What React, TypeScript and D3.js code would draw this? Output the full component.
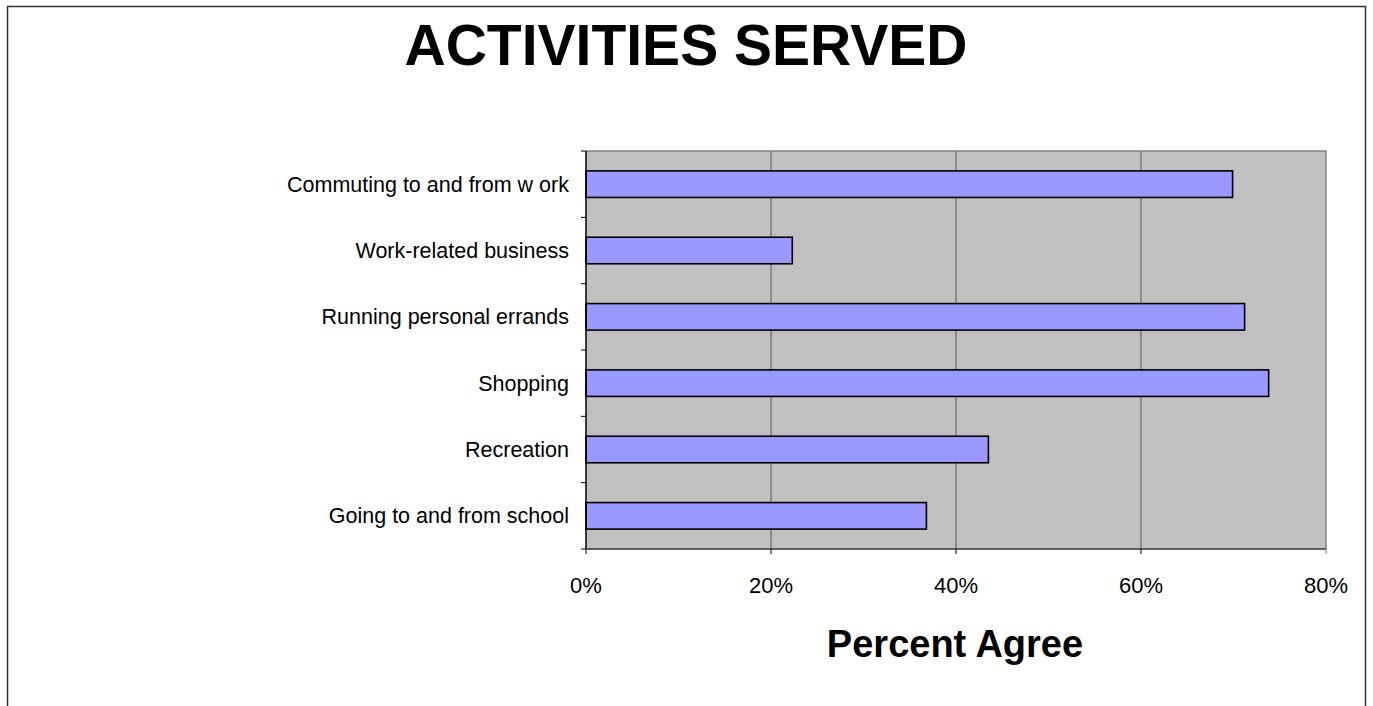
import React from "react";
import * as d3 from "d3";

const categories = [
  "Commuting to and from w ork",
  "Work-related business",
  "Running personal errands",
  "Shopping",
  "Recreation",
  "Going to and from school",
];
const values = [69.9, 22.3, 71.2, 73.8, 43.5, 36.8];
const xTicks = [0, 20, 40, 60, 80];
const title = "ACTIVITIES SERVED";
const xTitle = "Percent Agree";

const W = 1373;
const H = 706;
const plot = { left: 586, right: 1326, top: 151, bottom: 549 };

export default function App() {
  const x = d3.scaleLinear().domain([0, 80]).range([plot.left, plot.right]);
  const y = d3
    .scaleBand<string>()
    .domain(categories)
    .range([plot.top, plot.bottom])
    .paddingInner(0.6)
    .paddingOuter(0.3);
  const step = y.step();
  const boundaries = d3.range(categories.length + 1).map((i) => plot.top + i * step);
  const font = "Arial, 'Liberation Sans', sans-serif";

  return (
    <svg
      width={W}
      height={H}
      style={{ position: "absolute", left: 0, top: 0, background: "#fff" }}
    >
      {/* outer frame */}
      <rect x={7.5} y={6.5} width={1358} height={720} fill="none" stroke="#333" strokeWidth={1.5} />
      {/* title */}
      <text
        x={686}
        y={65}
        textAnchor="middle"
        fontFamily={font}
        fontWeight="bold"
        fontSize={57}
        textLength={563}
        lengthAdjust="spacingAndGlyphs"
        fill="#000"
      >
        {title}
      </text>
      {/* plot background */}
      <rect
        x={plot.left}
        y={plot.top}
        width={plot.right - plot.left}
        height={plot.bottom - plot.top}
        fill="#C0C0C0"
      />
      {/* gridlines */}
      {xTicks.slice(1, -1).map((t) => (
        <line
          key={"g" + t}
          x1={x(t)}
          x2={x(t)}
          y1={plot.top}
          y2={plot.bottom}
          stroke="#555"
          strokeWidth={1}
        />
      ))}
      {/* plot border top & right */}
      <path
        d={`M${plot.left},${plot.top}H${plot.right}V${plot.bottom}`}
        fill="none"
        stroke="#808080"
        strokeWidth={1.5}
      />
      {/* bars */}
      {categories.map((c, i) => (
        <rect
          key={c}
          x={x(0)}
          y={y(c)!}
          width={x(values[i]) - x(0)}
          height={y.bandwidth()}
          fill="#9999FF"
          stroke="#000"
          strokeWidth={1.6}
        />
      ))}
      {/* axes */}
      <line x1={plot.left} x2={plot.left} y1={plot.top} y2={plot.bottom} stroke="#000" strokeWidth={1.5} />
      <line x1={plot.left} x2={plot.right} y1={plot.bottom} y2={plot.bottom} stroke="#333" strokeWidth={1.5} />
      {boundaries.map((b, i) => (
        <line key={"yt" + i} x1={plot.left - 5} x2={plot.left} y1={b} y2={b} stroke="#000" strokeWidth={1} />
      ))}
      {xTicks.map((t) => (
        <line
          key={"xt" + t}
          x1={x(t)}
          x2={x(t)}
          y1={plot.bottom}
          y2={plot.bottom + 5}
          stroke={t === 80 ? "#808080" : "#000"}
          strokeWidth={1}
        />
      ))}
      {/* category labels */}
      {categories.map((c) => (
        <text
          key={"l" + c}
          x={569}
          y={y(c)! + y.bandwidth() / 2}
          dy="0.35em"
          textAnchor="end"
          fontFamily={font}
          fontSize={21.5}
          fill="#000"
        >
          {c}
        </text>
      ))}
      {/* x tick labels */}
      {xTicks.map((t) => (
        <text
          key={"xl" + t}
          x={x(t)}
          y={593}
          textAnchor="middle"
          fontFamily={font}
          fontSize={22}
          fill="#000"
        >
          {t + "%"}
        </text>
      ))}
      {/* x title */}
      <text
        x={955}
        y={657}
        textAnchor="middle"
        fontFamily={font}
        fontWeight="bold"
        fontSize={38}
        fill="#000"
      >
        {xTitle}
      </text>
    </svg>
  );
}
